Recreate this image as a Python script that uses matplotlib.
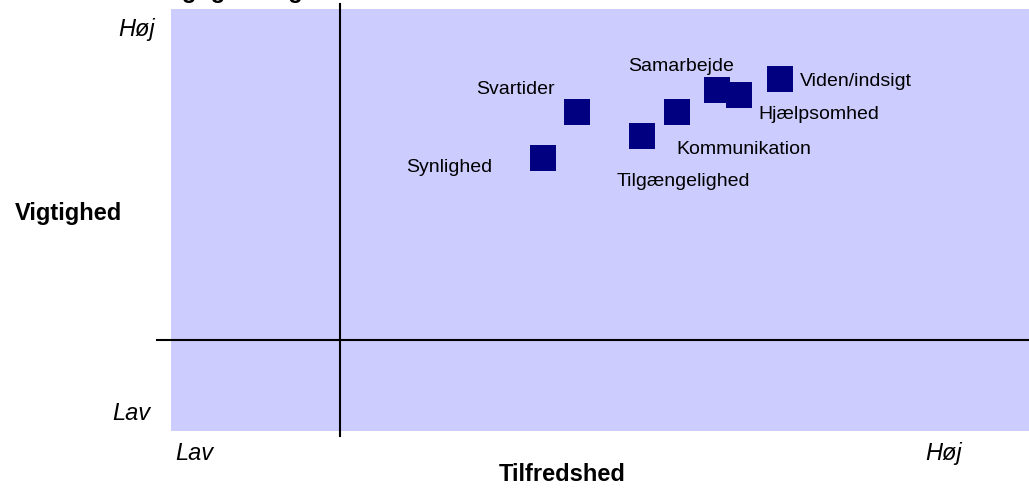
import matplotlib
matplotlib.use("Agg")
import matplotlib.pyplot as plt

# ---- data ----
categories = ["Synlighed", "Svartider", "Tilgængelighed", "Kommunikation",
              "Samarbejde", "Hjælpsomhed", "Viden/indsigt"]
tilfredshed = [43.4, 47.3, 54.9, 59.0, 63.6, 66.2, 71.0]   # x (satisfaction)
vigtighed = [64.7, 75.6, 69.9, 75.6, 80.8, 79.6, 83.4]     # y (importance)
cross_x = 19.7
cross_y = 21.6

# label placement (pixel offsets from marker, horizontal alignment)
label_pos = {
    "Synlighed": (-51, -13, "right"),
    "Svartider": (-22, 19, "right"),
    "Tilgængelighed": (-25, -49, "left"),
    "Kommunikation": (-1, -41, "left"),
    "Samarbejde": (-89, 20, "left"),
    "Hjælpsomhed": (19, -23, "left"),
    "Viden/indsigt": (20, -6, "left"),
}

W, H = 1029, 489
FONT = "Liberation Sans"
plt.rcParams["font.family"] = [FONT, "DejaVu Sans"]

fig = plt.figure(figsize=(W / 100, H / 100), dpi=100)
fig.patch.set_facecolor("white")

left, right, top, bottom = 171, 1029, 10, 432
ax = fig.add_axes([left / W, (H - bottom) / H, (right - left) / W, (bottom - top) / H])
ax.set_facecolor("#CCCCFF")
for s in ax.spines.values():
    s.set_visible(False)
ax.set_xticks([])
ax.set_yticks([])
ax.set_xlim(0, 100)
ax.set_ylim(0, 100)

# quadrant lines extending beyond the plot area
ax.plot([cross_x, cross_x], [-5 / 422, 1 + 5 / 422], color="black", lw=1.5,
        transform=ax.get_xaxis_transform(), clip_on=False, zorder=2)
ax.plot([-14 / 858, 1], [cross_y, cross_y], color="black", lw=1.5,
        transform=ax.get_yaxis_transform(), clip_on=False, zorder=2)

px = 0.72  # points per pixel at 100 dpi
for name, x, y in zip(categories, tilfredshed, vigtighed):
    ax.scatter([x], [y], marker="s", s=(26 * px) ** 2, color="#000080",
               edgecolors="none", zorder=3)
    dx, dy, ha = label_pos[name]
    ax.annotate(name, (x, y), xytext=(dx * px, dy * px), textcoords="offset points",
                ha=ha, va="baseline", fontsize=14, color="black", zorder=4)


def ftext(x, y, s, **kw):
    fig.text(x / W, 1 - y / H, s, va="baseline", **kw)


# cut-off title at the very top
ftext(160, -2, "Vigtighed og tilfredshed", fontsize=17, fontweight="bold", ha="left")

ftext(155, 36, "Høj", fontsize=17, style="italic", ha="right")
ftext(150, 420, "Lav", fontsize=17, style="italic", ha="right")
ftext(175, 460, "Lav", fontsize=17, style="italic", ha="left")
ftext(962, 460, "Høj", fontsize=17, style="italic", ha="right")
ftext(15, 220, "Vigtighed", fontsize=17, fontweight="bold", ha="left")
ftext(562, 481, "Tilfredshed", fontsize=17, fontweight="bold", ha="center")

fig.savefig("out.png", dpi=100)
